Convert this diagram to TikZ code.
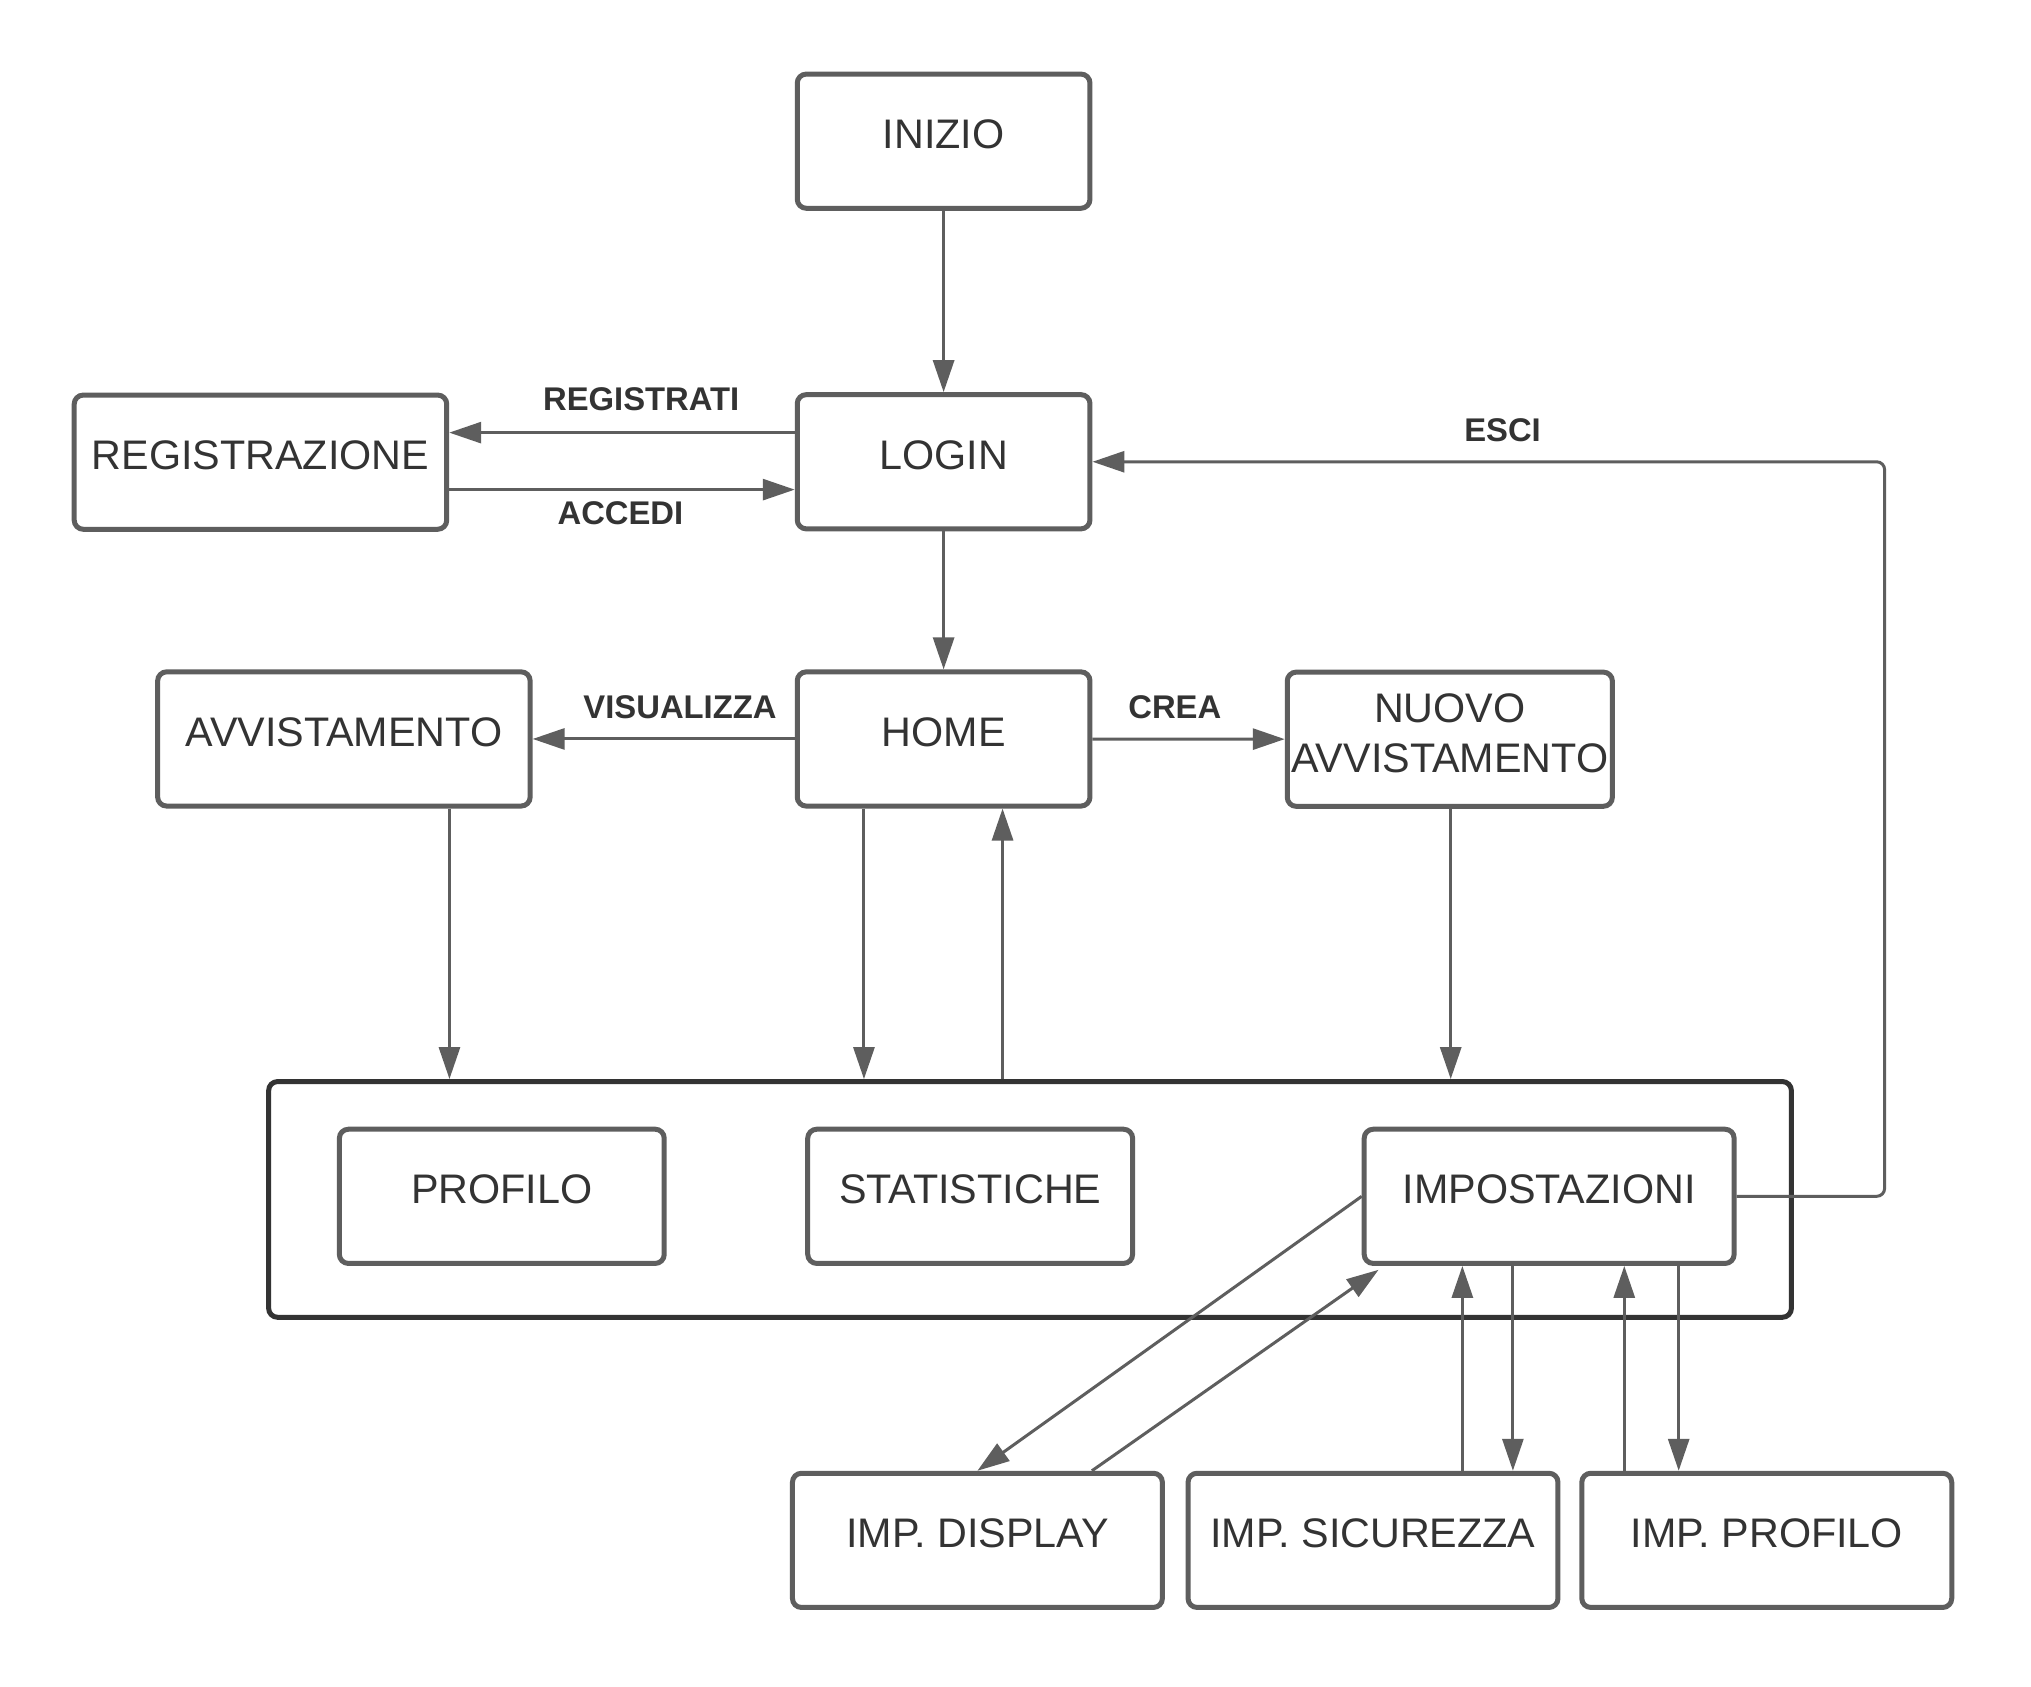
\documentclass[tikz,border=0pt]{standalone}
\usepackage{fontspec}
\setmainfont{Liberation Sans}
\usetikzlibrary{arrows.meta,calc}
\definecolor{cline}{HTML}{5E5E5E}
\definecolor{ctext}{HTML}{333333}
\definecolor{cframe}{HTML}{333333}
\newcommand\boxfont{\fontsize{41.3}{50.4}\selectfont}
\newcommand\lblfont{\bfseries\fontsize{32.8}{39}\selectfont}
\tikzset{
  sz/.style 2 args={minimum width=#1*1.2953pt, minimum height=#2*1.2953pt},
  boxbase/.style={draw=cline, line width=5pt, rounded corners=9pt, fill=white,
    text=ctext, font=\boxfont, inner sep=0pt},
  box/.style={boxbase, text height=29.5pt, text depth=14.5pt},
  frame/.style={draw=cframe, line width=5pt, rounded corners=9pt, inner sep=0pt},
  conn/.style={draw=cline, line width=3pt, -{Triangle[length=32pt,width=21pt]}},
  lbl/.style={font=\lblfont, text=ctext, inner sep=0pt, text height=23.5pt, text depth=0pt}
}
\begin{document}
\begin{tikzpicture}[x=1.2953pt,y=-1.2953pt]
\useasboundingbox (0,0) rectangle (1568,1302);
\fill[white] (0,0) rectangle (1568,1302);
% container
\node[frame, sz={1175.6}{182}] (cont) at (795.2,926) {};
% boxes
\node[box, sz={226}{103.6}] (inizio) at (728.5,109) {INIZIO};
\node[box, sz={226}{103.6}] (login) at (728.5,356.5) {LOGIN};
\node[box, sz={287.6}{103.6}] (reg) at (201.1,356.8) {REGISTRAZIONE};
\node[box, sz={287.6}{103.6}] (avv) at (265.5,570.5) {AVVISTAMENTO};
\node[box, sz={226}{103.6}] (home) at (728.5,570.5) {HOME};
\node[boxbase, sz={251}{103.6}, align=center] (nuovo) at (1119.3,570.7) {NUOVO\\AVVISTAMENTO\rule[-12pt]{0pt}{12pt}};
\node[box, sz={250.8}{103.6}] (profilo) at (387.4,923.6) {PROFILO};
\node[box, sz={250.8}{103.6}] (stat) at (749,923.6) {STATISTICHE};
\node[box, sz={285.6}{103.6}] (imp) at (1196,923.6) {IMPOSTAZIONI};
\node[box, sz={285.6}{103.6}] (impd) at (754.6,1189.2) {IMP. DISPLAY};
\node[box, sz={285.6}{103.6}] (imps) at (1060,1189.2) {IMP. SICUREZZA};
\node[box, sz={285.6}{103.6}] (impp) at (1364,1189.2) {IMP. PROFILO};
% labels
\node[lbl] (lreg) at (495,308) {REGISTRATI};
\node[lbl] (lacc) at (479,396) {ACCEDI};
\node[lbl] (lvis) at (525,546) {VISUALIZZA};
\node[lbl] (lcrea) at (907,546) {CREA};
\node[lbl] (lesci) at (1160,332) {ESCI};
% connectors
\draw[conn] (inizio) -- (login);
\draw[conn] (login.west |- 0,334) -- (reg.east |- 0,334);
\draw[conn] (reg.east |- 0,378) -- (login.west |- 0,378);
\draw[conn] (login) -- (home);
\draw[conn] (home) -- (avv);
\draw[conn] (home) -- (nuovo);
\draw[conn] (avv.south -| 347,0) -- (cont.north -| 347,0);
\draw[conn] (home.south -| 667,0) -- (cont.north -| 667,0);
\draw[conn] (cont.north -| 774,0) -- (home.south -| 774,0);
\draw[conn] (nuovo.south -| 1120,0) -- (cont.north -| 1120,0);
\coordinate (ecorner) at (imp.east -| 1455,0);
\draw[conn, rounded corners=8pt] (imp.east) -- (ecorner) |- (login.east);
\draw[conn] (imp.west) -- (impd.north);
\draw[conn] (impd.north -| 843,0) -- ($(imp.south west)+(13,3)$);
\draw[conn] (imps.north -| 1129,0) -- (imp.south -| 1129,0);
\draw[conn] (imp.south -| 1168,0) -- (imps.north -| 1168,0);
\draw[conn] (impp.north -| 1254,0) -- (imp.south -| 1254,0);
\draw[conn] (imp.south -| 1296,0) -- (impp.north -| 1296,0);
\end{tikzpicture}
\end{document}
